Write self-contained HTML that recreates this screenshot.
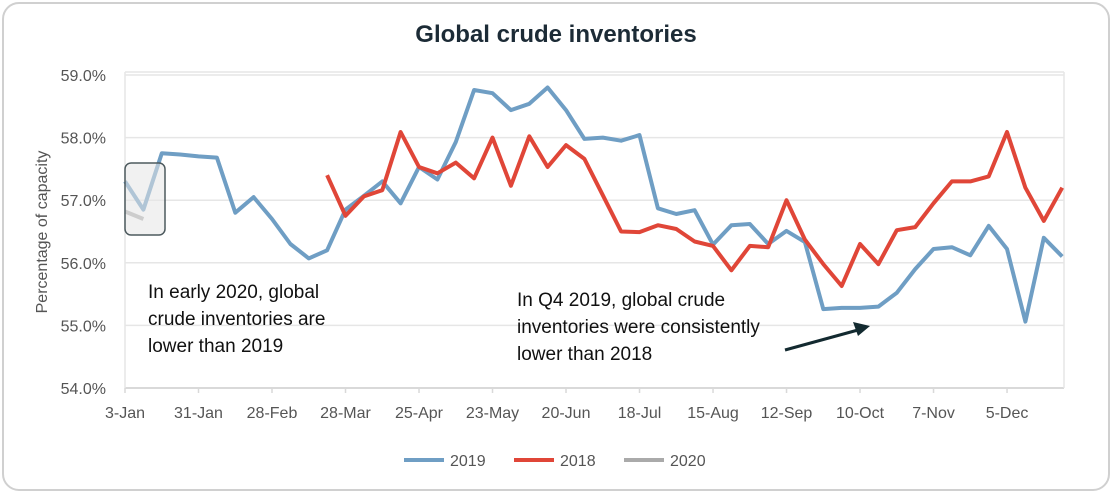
<!DOCTYPE html>
<html><head><meta charset="utf-8"><style>
body{margin:0;background:#fff;font-family:"Liberation Sans",sans-serif}
svg text{font-family:"Liberation Sans",sans-serif}
</style></head><body>
<svg id="c" width="1112" height="493">
<rect x="3" y="3" width="1106" height="487" rx="16" fill="#fff" stroke="#d0d0d0" stroke-width="2"/>
<text x="556" y="42" text-anchor="middle" font-size="24" font-weight="bold" fill="#1c2b36">Global crude inventories</text>
<g id="grid"></g><g id="series"></g>
<text transform="translate(47,232) rotate(-90)" text-anchor="middle" font-size="16" fill="#555">Percentage of capacity</text>
<rect x="125" y="163" width="40" height="72" rx="6" fill="#e6e6e6" fill-opacity="0.55" stroke="#4d5a5e" stroke-width="1.5"/>
<g font-size="19" fill="#111">
<text x="148" y="298">In early 2020, global</text><text x="148" y="325">crude inventories are</text><text x="148" y="352">lower than 2019</text></g>
<g font-size="19" fill="#111">
<text x="517" y="306">In Q4 2019, global crude</text><text x="517" y="333">inventories were consistently</text><text x="517" y="360">lower than 2018</text></g>
<line x1="785" y1="350" x2="858" y2="330" stroke="#132a30" stroke-width="3"/>
<polygon points="870,326 853,322 858,336" fill="#132a30"/>
<g id="legend" font-size="16" fill="#555"></g>
</svg>
<script>
const weeksPerTick = 4;
const xTickLabels = ["3-Jan","31-Jan","28-Feb","28-Mar","25-Apr","23-May","20-Jun","18-Jul","15-Aug","12-Sep","10-Oct","7-Nov","5-Dec"];
const yTicks = [54,55,56,57,58,59];
const s2019 = [57.3,56.85,57.75,57.73,57.7,57.68,56.8,57.05,56.7,56.3,56.07,56.2,56.85,57.07,57.3,56.95,57.53,57.33,57.93,58.76,58.71,58.44,58.54,58.8,58.44,57.98,58.0,57.95,58.04,56.87,56.78,56.84,56.29,56.6,56.62,56.3,56.51,56.33,55.26,55.28,55.28,55.3,55.52,55.9,56.22,56.25,56.12,56.59,56.22,55.06,56.4,56.1];
const s2018 = [null,null,null,null,null,null,null,null,null,null,null,57.4,56.75,57.06,57.16,58.09,57.53,57.43,57.6,57.35,58.0,57.23,58.02,57.53,57.88,57.66,57.08,56.5,56.49,56.6,56.54,56.34,56.27,55.88,56.27,56.25,57.0,56.37,55.98,55.63,56.3,55.98,56.52,56.57,56.95,57.3,57.3,57.38,58.09,57.2,56.67,57.2];
const s2020 = [56.82,56.7];
const X0=125,X1=1064,Y0=388,Y1=75,NW=51.1;
const x=i=>X0+i*(X1-X0)/NW;
const y=v=>Y0-(v-54)/(59-54)*(Y0-Y1);
const ns="http://www.w3.org/2000/svg";
function mk(t,a,p){const e=document.createElementNS(ns,t);for(const k in a)e.setAttribute(k,a[k]);p.appendChild(e);return e;}
const g=document.getElementById('grid');
yTicks.forEach(v=>{
 const l=mk('line',{x1:X0,x2:X1,y1:y(v),y2:y(v),stroke:v===54?'#d9d9d9':'#e6e6e6','stroke-width':v===54?2:1.5},g);
 
 
 const t=mk('text',{x:106,y:y(v)+6,'text-anchor':'end','font-size':16,fill:'#555'},g);
 t.textContent=v.toFixed(1)+'%';
 
 
});
const ax=mk('line',{x1:X0,x2:X0,y1:Y1-3,y2:Y0,stroke:'#e6e6e6','stroke-width':1.5},g);


const rx=mk('line',{x1:X1,x2:X1,y1:Y1-3,y2:Y0,stroke:'#e6e6e6','stroke-width':1.5},g);


const tp=mk('line',{x1:X0,x2:X1,y1:Y1-3,y2:Y1-3,stroke:'#e6e6e6','stroke-width':1.5},g);


xTickLabels.forEach((lb,i)=>{
 const xx=x(i*weeksPerTick);
 const tk=mk('line',{x1:xx,x2:xx,y1:Y0,y2:Y0+5,stroke:'#d9d9d9','stroke-width':1.5},g);
 
 
 const t=mk('text',{x:xx,y:418,'text-anchor':'middle','font-size':16,fill:'#555'},g);
 t.textContent=lb;
 
 
});
const sg=document.getElementById('series');
function line(data,color,name,op){
 let d='';let pen=false;
 data.forEach((v,i)=>{if(v==null){pen=false;return;}d+=(pen?'L':'M')+x(i).toFixed(1)+' '+y(v).toFixed(1);pen=true;});
 const p=mk('path',{d:d,fill:'none',stroke:color,'stroke-width':4,'stroke-linejoin':'round',opacity:op||1},sg);
 
 
}
line(s2019,'#6f9ec4','line-2019');
line(s2018,'#e04638','line-2018');
line(s2020,'#b0b0b0','line-2020');
const lg=document.getElementById('legend');
[['2019','#6f9ec4',404],['2018','#e04638',514],['2020','#aaaaaa',624]].forEach(([n,c,lx])=>{
 const l=mk('line',{x1:lx,x2:lx+40,y1:460,y2:460,stroke:c,'stroke-width':4},lg);
 
 
 const t=mk('text',{x:lx+46,y:466},lg);
 t.textContent=n;
 
 
});
</script>
</body></html>
